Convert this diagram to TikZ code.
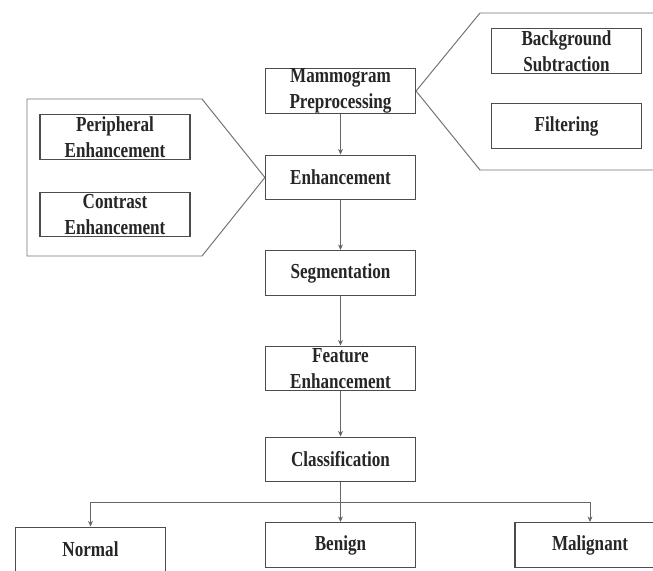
\documentclass[tikz,border=0pt]{standalone}
\usepackage{fontspec}
\newfontfamily\labelfont[FakeStretch=0.8]{Liberation Serif}
\usetikzlibrary{arrows.meta}

\begin{document}
\begin{tikzpicture}[x=0.025cm, y=-0.025cm,
    stagebox/.style={draw=black!70, line width=0.8pt, fill=white,
        minimum width=3.75cm, minimum height=1.12cm, inner sep=0pt,
        align=center, text=black!85,
        font=\labelfont\bfseries\fontsize{15.2pt}{18.8pt}\selectfont},
    calloutline/.style={draw=black!55, line width=0.7pt},
    link/.style={draw=black!60, line width=0.5pt,
        -{Stealth[length=4pt, width=3.5pt]}}]
    % page frame, the bottom row runs off the edges
    \clip (0, 0) rectangle (653, 571);

    % pentagon callouts behind the boxes
    \coordinate (rtop) at (480, 13);
    \coordinate (rbot) at (480, 170);
    \coordinate (ltop) at (202, 99);
    \coordinate (lbot) at (202, 256);

    % main column
    \node [stagebox] (pre)    at (340.5, 91)    {Mammogram\\Preprocessing};
    \node [stagebox] (enh)    at (340.5, 177.5) {Enhancement};
    \node [stagebox] (seg)    at (340.5, 273)   {Segmentation};
    \node [stagebox] (feat)   at (340.5, 368.5) {Feature\\Enhancement};
    \node [stagebox] (cls)    at (340.5, 459.5) {Classification};

    % outcomes
    \node [stagebox] (normal) at (90.5, 549.5)  {Normal};
    \node [stagebox] (benign) at (340.5, 545)   {Benign};
    \node [stagebox] (malig)  at (590, 545)     {Malignant};

    \draw [calloutline] (pre.east) -- (rtop) -- (665, 13) -- (665, 170) -- (rbot) -- cycle;
    \draw [calloutline] (enh.west) -- (ltop) -- (27, 99) -- (27, 256) -- (lbot) -- cycle;

    % sub steps inside the callouts
    \node [stagebox] (bgsub)  at (566.5, 51)    {Background\\Subtraction};
    \node [stagebox] (filt)   at (566.5, 126)   {Filtering};
    \node [stagebox] (peri)   at (115, 137)     {Peripheral\\Enhancement};
    \node [stagebox] (contr)  at (115, 214.5)   {Contrast\\Enhancement};

    \draw [link] (pre) -- (enh);
    \draw [link] (enh) -- (seg);
    \draw [link] (seg) -- (feat);
    \draw [link] (feat) -- (cls);
    \draw [link] (cls) -- (benign);

    \coordinate (fork) at (340.5, 502);
    \draw [link] (fork) -| (normal.north);
    \draw [link] (fork) -| (malig.north);
\end{tikzpicture}
\end{document}
